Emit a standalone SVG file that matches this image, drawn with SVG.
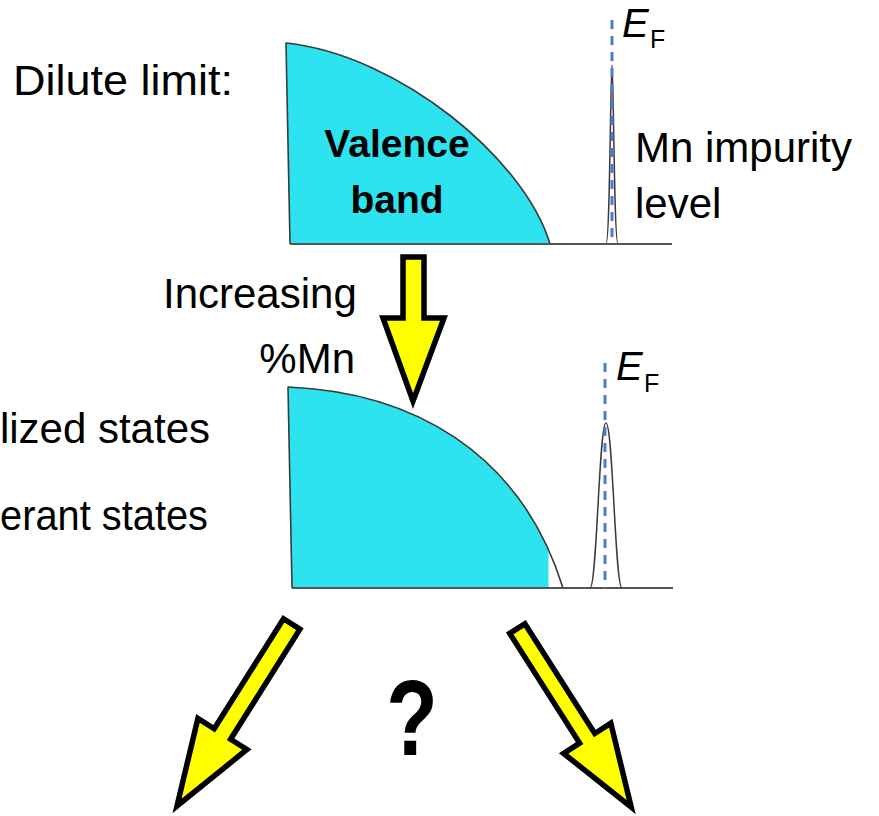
<svg xmlns="http://www.w3.org/2000/svg" width="879" height="816" viewBox="0 0 879 816">
  <style>
    .t { font-family: "Liberation Sans", Arial, sans-serif; font-size: 42px; fill: #000; }
    .b { font-family: "Liberation Sans", Arial, sans-serif; font-size: 39px; font-weight: bold; fill: #000; }
    .ei { font-family: "Liberation Sans", Arial, sans-serif; font-style: italic; font-size: 40px; fill: #000; }
    .es { font-family: "Liberation Sans", Arial, sans-serif; font-size: 25px; fill: #000; }
    .band { fill: #2de3f0; stroke: none; }
    .outline { fill: none; stroke: #3a3a3a; stroke-width: 1.6; stroke-linejoin: round; }
    .base { fill: none; stroke: #555; stroke-width: 2; }
    .peak { fill: none; stroke: #3a3a3a; stroke-width: 1.5; }
    .ef { fill: none; stroke: #4a7fc4; stroke-width: 3; stroke-dasharray: 9 7; }
    .arrow { fill: #ffff00; stroke: #000; stroke-width: 5.5; stroke-linejoin: miter; stroke-miterlimit: 10; }
  </style>
  <defs>
    <clipPath id="clipMid">
      <rect x="280" y="370" width="268.5" height="230"/>
    </clipPath>
  </defs>

  <!-- Panel 1: dilute limit -->
  <g id="panel-dilute">
    <path class="band" d="M286 43 C400 55 525 160 550 244 L290 244 Z"/>
    <path class="outline" d="M290 244 L286 43 C400 55 525 160 550 244"/>
    <line class="base" x1="290" y1="244" x2="672" y2="244"/>
    <path class="peak" d="M606 244 C610 244 610.5 65 612 65 C613.5 65 614 244 618 244"/>
    <line class="ef" x1="612" y1="20" x2="612" y2="244"/>
    <text class="ei" x="622" y="37">E</text>
    <text class="es" x="650" y="48">F</text>
    <text class="b" x="397" y="157" text-anchor="middle">Valence</text>
    <text class="b" x="397" y="213" text-anchor="middle">band</text>
    <text class="t" x="635" y="162">Mn impurity</text>
    <text class="t" x="635" y="218">level</text>
  </g>

  <g id="label-dilute">
    <text class="t" x="13" y="95" textLength="220" lengthAdjust="spacingAndGlyphs">Dilute limit:</text>
  </g>

  <!-- Increasing arrow -->
  <g id="arrow-increasing">
    <polygon class="arrow" points="403,257 424,257 424,318 444,318 413,401 383,318 403,318"/>
  </g>
  <g id="label-increasing">
    <text class="t" x="163" y="308">Increasing</text>
    <text class="t" x="355" y="373" text-anchor="end">%Mn</text>
  </g>

  <!-- Panel 2: increasing Mn -->
  <g id="panel-increased">
    <path class="band" clip-path="url(#clipMid)" d="M288 387 C410 392 520 450 563 588 L292 588 Z"/>
    <path class="outline" d="M292 588 L288 387 C410 392 520 450 563 588"/>
    <line class="base" x1="292" y1="588" x2="673" y2="588"/>
    <path class="peak" d="M590 588 C597 588 599 423 606 423 C613 423 615 588 622 588"/>
    <line class="ef" x1="605" y1="363" x2="605" y2="588"/>
    <text class="ei" x="616" y="380">E</text>
    <text class="es" x="644" y="392">F</text>
  </g>

  <g id="labels-left">
    <text class="t" x="210" y="443" text-anchor="end">lized states</text>
    <text class="t" x="0" y="530" textLength="208" lengthAdjust="spacingAndGlyphs">erant states</text>
  </g>

  <!-- Branching arrows -->
  <g id="connectors">
    <polygon class="arrow" points="283.5,618.8 299.9,629.2 230.6,739.2 246.9,749.5 177,806 197.9,718.5 214.2,728.8"/>
    <polygon class="arrow" points="509.7,633.4 524.9,623.8 594.8,733.5 610.8,723.2 631.2,807.1 563.6,753.4 579.6,743.1"/>
  </g>

  <g id="question">
    <text class="b" transform="translate(412,755) scale(0.78,1)" text-anchor="middle" style="font-size:108px">?</text>
  </g>
</svg>
